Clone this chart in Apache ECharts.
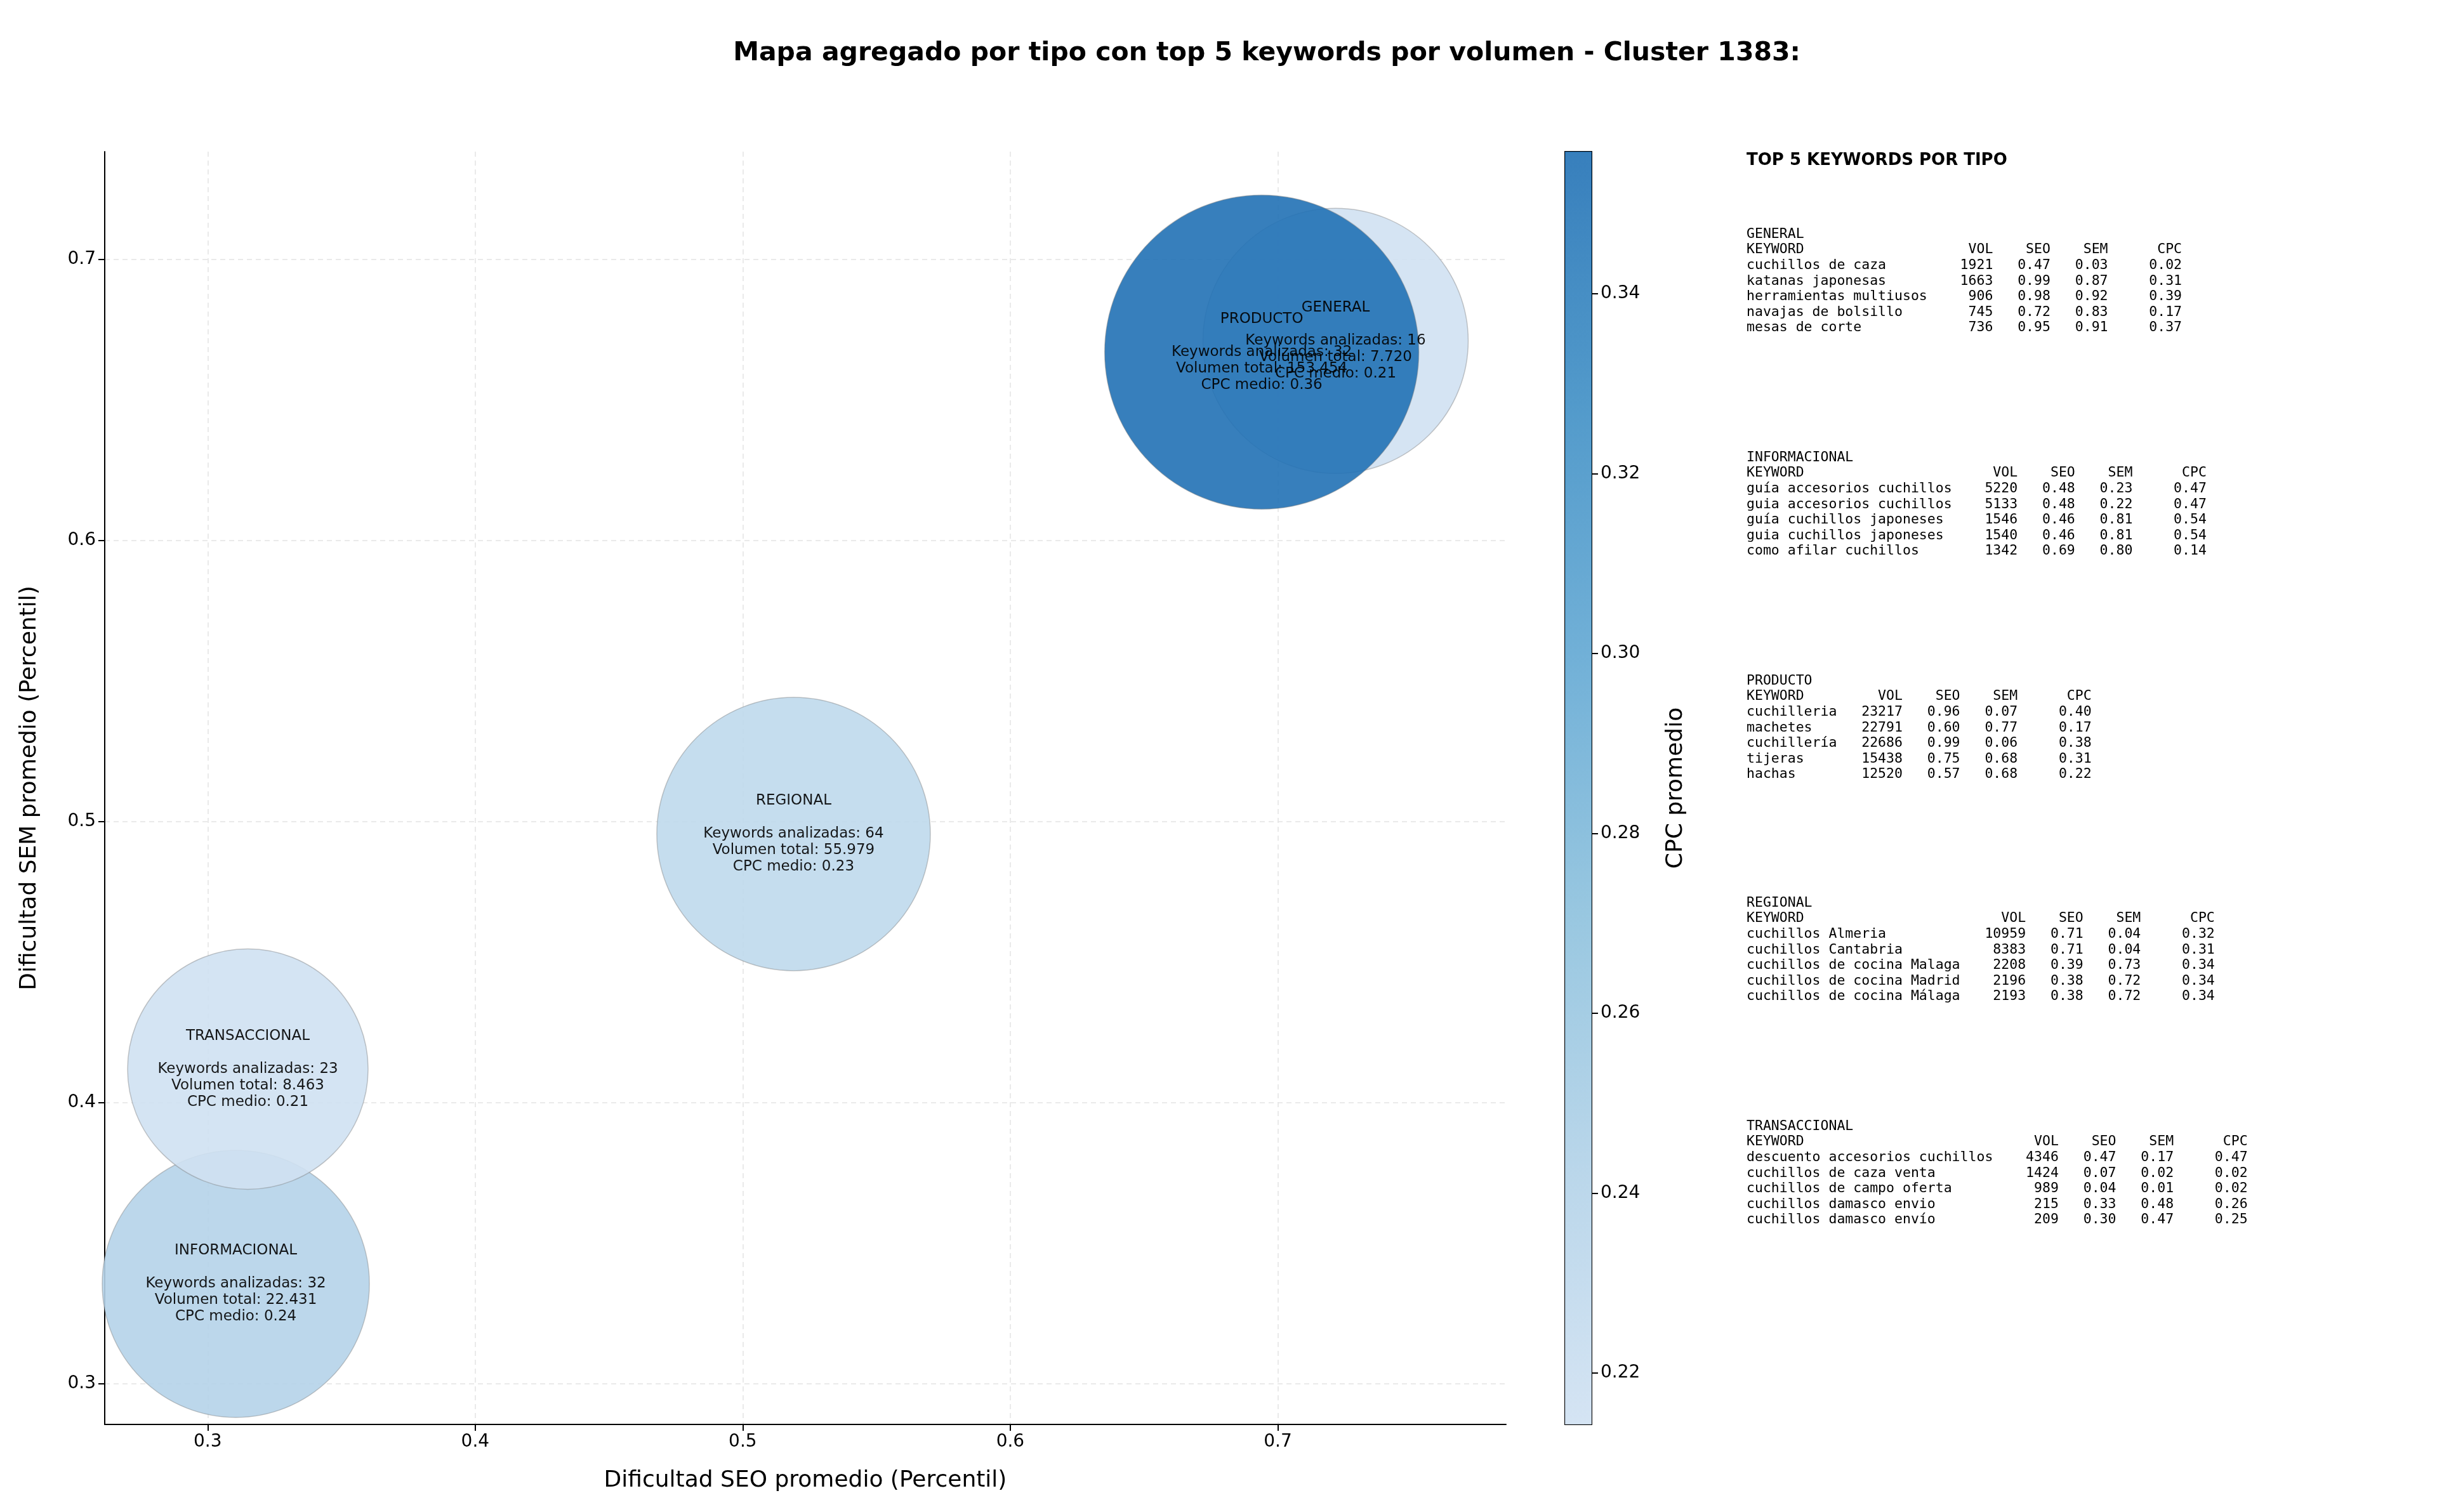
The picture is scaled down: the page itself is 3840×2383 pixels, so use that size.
<!DOCTYPE html>
<html><head><meta charset="utf-8">
<script src="https://cdn.jsdelivr.net/npm/echarts@6/dist/echarts.min.js"></script>
<style>html,body{margin:0;padding:0;background:#fff}#c{width:3840px;height:2383px}</style>
</head><body><div id="c"></div>
<script>
// ---- data ----
const tipos = ['GENERAL','INFORMACIONAL','PRODUCTO','REGIONAL','TRANSACCIONAL'];
const seoMean = [0.7216, 0.3105, 0.694, 0.519, 0.315];
const semMean = [0.671, 0.3356, 0.667, 0.4956, 0.412];
const cpcMean = [0.2143, 0.2400, 0.3558, 0.2300, 0.2148];
const kwCount = [16, 32, 32, 64, 23];
const volTotal = ['7.720', '22.431', '153.454', '55.979', '8.463'];
const bubbleDiameter = [418, 421, 495, 431, 379];
const xTicks = [0.3, 0.4, 0.5, 0.6, 0.7];
const yTicks = [0.3, 0.4, 0.5, 0.6, 0.7];
const cbTicks = [0.22, 0.24, 0.26, 0.28, 0.30, 0.32, 0.34];

const topKw = {
  GENERAL: [['cuchillos de caza',1921,0.47,0.03,0.02],['katanas japonesas',1663,0.99,0.87,0.31],['herramientas multiusos',906,0.98,0.92,0.39],['navajas de bolsillo',745,0.72,0.83,0.17],['mesas de corte',736,0.95,0.91,0.37]],
  INFORMACIONAL: [['guía accesorios cuchillos',5220,0.48,0.23,0.47],['guia accesorios cuchillos',5133,0.48,0.22,0.47],['guía cuchillos japoneses',1546,0.46,0.81,0.54],['guia cuchillos japoneses',1540,0.46,0.81,0.54],['como afilar cuchillos',1342,0.69,0.80,0.14]],
  PRODUCTO: [['cuchilleria',23217,0.96,0.07,0.40],['machetes',22791,0.60,0.77,0.17],['cuchillería',22686,0.99,0.06,0.38],['tijeras',15438,0.75,0.68,0.31],['hachas',12520,0.57,0.68,0.22]],
  REGIONAL: [['cuchillos Almeria',10959,0.71,0.04,0.32],['cuchillos Cantabria',8383,0.71,0.04,0.31],['cuchillos de cocina Malaga',2208,0.39,0.73,0.34],['cuchillos de cocina Madrid',2196,0.38,0.72,0.34],['cuchillos de cocina Málaga',2193,0.38,0.72,0.34]],
  TRANSACCIONAL: [['descuento accesorios cuchillos',4346,0.47,0.17,0.47],['cuchillos de caza venta',1424,0.07,0.02,0.02],['cuchillos de campo oferta',989,0.04,0.01,0.02],['cuchillos damasco envio',215,0.33,0.48,0.26],['cuchillos damasco envío',209,0.30,0.47,0.25]]
};

// ---- build ----
const cmap = ['#d0e1f2','#b2d2e8','#8dc1dd','#62a8d3','#3f8fc5','#2171b5'];
const cMin = 0.2143, cMax = 0.3558;
const pts = tipos.map((t,i)=>({value:[seoMean[i], semMean[i], cpcMean[i]], name:t}));

function padL(s,n){s=String(s);while(s.length<n)s=s+' ';return s;}
function padR(s,n){s=String(s);while(s.length<n)s=' '+s;return s;}
function tableText(t){
  const rows = topKw[t];
  const w = Math.max(...rows.map(r=>r[0].length));
  const lines = [t, padL('KEYWORD',w)+padR('VOL',8)+padR('SEO',7)+padR('SEM',7)+padR('CPC',9)];
  rows.forEach(r=>lines.push(padL(r[0],w)+padR(r[1],8)+padR(r[2].toFixed(2),7)+padR(r[3].toFixed(2),7)+padR(r[4].toFixed(2),9)));
  return lines.join('\n');
}
const tableTops = [357, 709, 1061, 1411, 1763];
const graphics = [
  {type:'text', x:1996, y:84, style:{text:'Mapa agregado por tipo con top 5 keywords por volumen - Cluster 1383:', font:'bold 41px "DejaVu Sans"', fill:'#000', textAlign:'center', textVerticalAlign:'middle'}},
  {type:'text', x:2752, y:253, style:{text:'TOP 5 KEYWORDS POR TIPO', font:'bold 26px "DejaVu Sans"', fill:'#000', textAlign:'left', textVerticalAlign:'middle'}}
];
tipos.forEach((t,i)=>graphics.push({type:'text', x:2752, y:tableTops[i], style:{text:tableText(t), font:'21.5px "DejaVu Sans Mono"', lineHeight:24.6, fill:'#000', textAlign:'left', textVerticalAlign:'top'}}));

const grad = new echarts.graphic.LinearGradient(0,1,0,0, cmap.map((c,i)=>({offset:i/(cmap.length-1), color:c})));
const axisCommon = {
  axisLine:{show:true, lineStyle:{color:'#000', width:2}},
  axisTick:{show:true, length:10, inside:false, lineStyle:{color:'#000', width:2}},
  axisLabel:{fontSize:28, color:'#000', fontFamily:'DejaVu Sans', margin:14},
  nameTextStyle:{fontSize:36, color:'#000', fontFamily:'DejaVu Sans'},
  nameLocation:'middle'
};
const splitL = {show:true, lineStyle:{color:'#e3e3e3', type:[8,6], width:1.5}};
const option = {
  backgroundColor:'#fff',
  animation:false,
  graphic: graphics,
  grid:[{left:165, top:239, width:2208, height:2006, containLabel:false},
        {left:2466, top:239, width:42, height:2006, show:true, borderColor:'#000', borderWidth:2, backgroundColor:'transparent'}],
  visualMap:{show:false, type:'continuous', dimension:2, min:cMin, max:cMax, seriesIndex:0, inRange:{color:cmap}},
  xAxis:[Object.assign({}, axisCommon, {type:'value', gridIndex:0, min:0.2615, max:0.7853, name:'Dificultad SEO promedio (Percentil)', nameGap:71,
           axisLabel:Object.assign({}, axisCommon.axisLabel, {customValues:xTicks, formatter:v=>String(+v.toFixed(1))}),
           axisTick:Object.assign({}, axisCommon.axisTick, {customValues:xTicks}), splitLine:splitL}),
         {type:'category', gridIndex:1, data:['cb'], show:false, boundaryGap:false}],
  yAxis:[Object.assign({}, axisCommon, {type:'value', gridIndex:0, min:0.2856, max:0.7383, name:'Dificultad SEM promedio (Percentil)', nameGap:100,
           axisLabel:Object.assign({}, axisCommon.axisLabel, {customValues:yTicks, formatter:v=>String(+v.toFixed(1))}),
           axisTick:Object.assign({}, axisCommon.axisTick, {customValues:yTicks}), splitLine:splitL}),
         Object.assign({}, axisCommon, {type:'value', gridIndex:1, position:'right', min:cMin, max:cMax, name:'CPC promedio', nameGap:115, nameRotate:90,
           axisLine:{show:false},
           axisLabel:Object.assign({}, axisCommon.axisLabel, {customValues:cbTicks, formatter:v=>v.toFixed(2)}),
           axisTick:Object.assign({}, axisCommon.axisTick, {customValues:cbTicks}), splitLine:{show:false}})],
  series:[
    {type:'scatter', xAxisIndex:0, yAxisIndex:0, data:pts,
     symbolSize:(v,p)=>bubbleDiameter[p.dataIndex],
     itemStyle:{opacity:0.9, borderColor:'rgba(120,120,120,0.45)', borderWidth:1.5},
     label:{show:true, position:'inside', color:'#000', fontSize:23, fontFamily:'DejaVu Sans', lineHeight:26, align:'center',
       formatter:p=>{const i=p.dataIndex; return tipos[i]+'\n\nKeywords analizadas: '+kwCount[i]+'\nVolumen total: '+volTotal[i]+'\nCPC medio: '+cpcMean[i].toFixed(2);}},
     emphasis:{disabled:true}},
    {type:'bar', xAxisIndex:1, yAxisIndex:1, data:[cMax], barWidth:'100%', itemStyle:{color:grad, opacity:0.9}, silent:true}
  ]
};
const chart = echarts.init(document.getElementById('c'), null, {renderer:'canvas'});
chart.setOption(option);
</script></body></html>
